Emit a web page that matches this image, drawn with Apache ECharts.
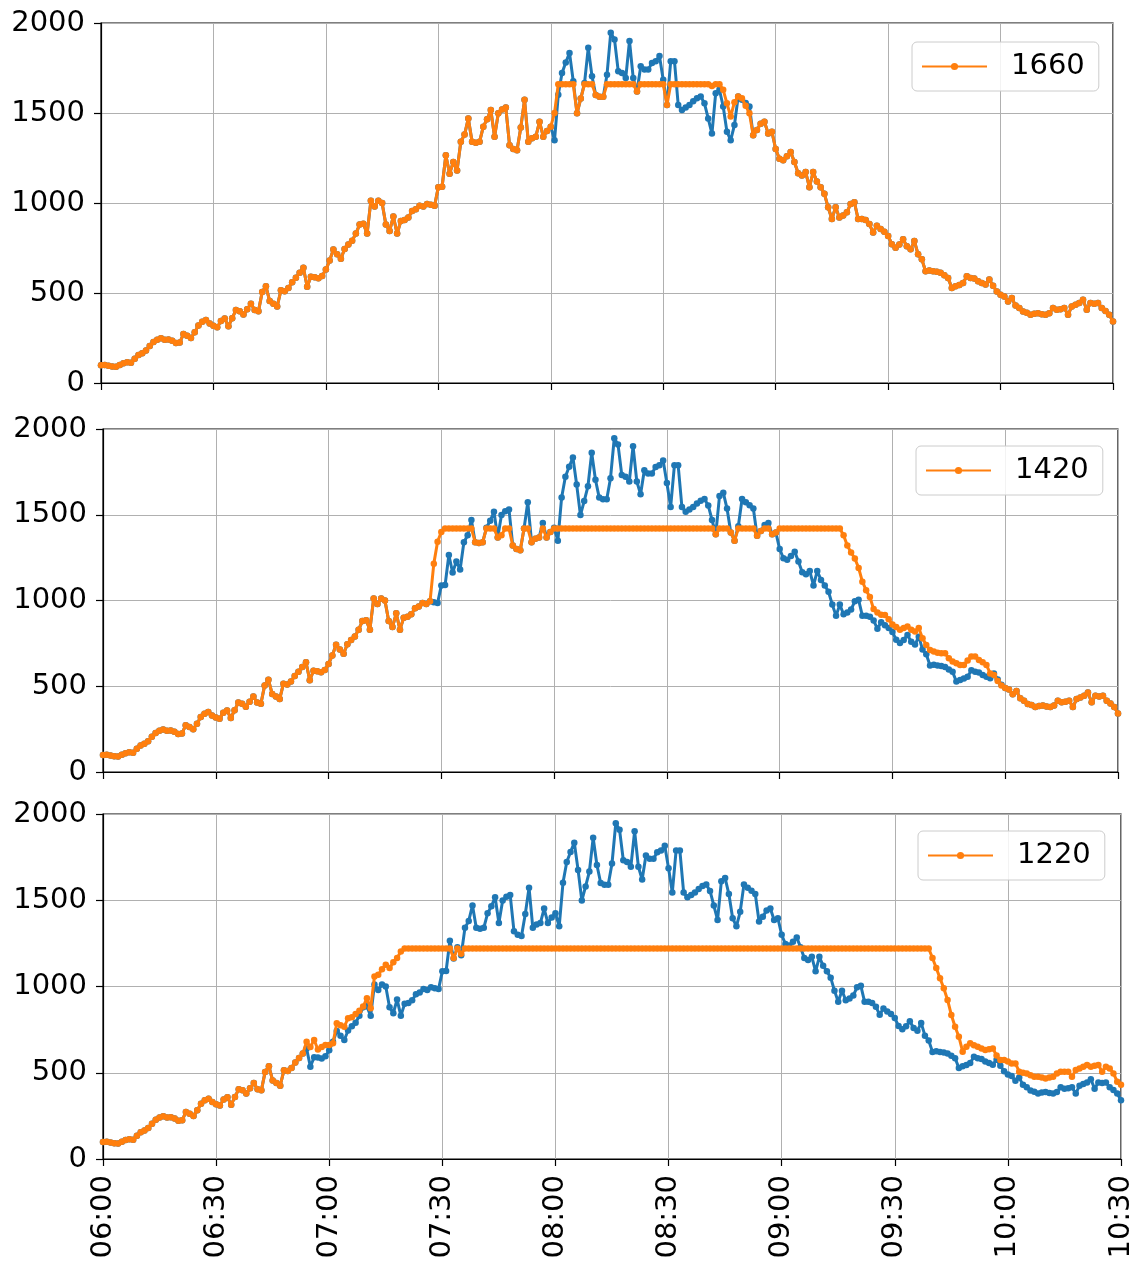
<!DOCTYPE html>
<html>
<head>
<meta charset="utf-8">
<script src="https://cdn.jsdelivr.net/npm/echarts@6/dist/echarts.min.js"></script>
<style>
html,body{margin:0;padding:0;background:#fff;}
#chart{width:1137px;height:1266px;}
</style>
</head>
<body>
<div id="chart"></div>
<script>
// x tick labels (every 30 minutes from 06:00)
const tickLabels = ['06:00','06:30','07:00','07:30','08:00','08:30','09:00','09:30','10:00','10:30'];
// legend names (caps)
const capNames = ['1660','1420','1220'];

// original series, one value per minute from 06:00 to 10:30
const blue = [
  99,100,96,92,90,100,110,115,112,135,
  155,165,180,205,228,240,248,240,242,235,
  222,225,272,262,250,282,320,340,350,330,
  318,310,345,358,315,360,405,398,380,410,
  440,405,398,505,538,455,440,425,515,510,
  528,560,585,612,640,535,590,588,582,595,
  630,680,742,715,690,745,770,790,830,880,
  885,830,1012,980,1012,1000,880,845,925,830,
  900,905,920,955,965,985,980,995,990,985,
  1088,1090,1265,1163,1228,1181,1340,1380,1470,1340,
  1335,1340,1424,1465,1517,1368,1498,1520,1530,1321,
  1300,1293,1420,1573,1340,1360,1368,1452,1368,1400,
  1424,1349,1601,1722,1780,1834,1676,1498,1580,1666,
  1862,1704,1600,1590,1590,1713,1946,1909,1732,1722,
  1694,1900,1694,1620,1760,1741,1741,1778,1788,1816,
  1685,1545,1788,1788,1545,1517,1530,1545,1565,1582,
  1592,1554,1470,1386,1610,1629,1536,1396,1349,1433,
  1592,1573,1555,1536,1377,1405,1440,1452,1386,1396,
  1300,1246,1237,1260,1284,1228,1165,1153,1172,1088,
  1172,1120,1088,1051,976,911,976,920,930,948,
  995,1004,911,911,905,883,836,873,855,840,
  817,771,752,770,799,760,743,789,715,687,
  621,625,621,618,612,598,584,528,537,545,
  556,593,584,580,565,556,547,575,540,509,
  490,481,453,472,430,416,397,390,379,385,
  388,382,379,388,416,407,410,416,379,425,
  435,444,463,407,444,440,444,416,400,379,
  341
];

// cap 1660
const orange1 = [
  99,100,96,92,90,100,110,115,112,135,
  155,165,180,205,228,240,248,240,242,235,
  222,225,272,262,250,282,320,340,350,330,
  318,310,345,358,315,360,405,398,380,410,
  440,405,398,505,538,455,440,425,515,510,
  528,560,585,612,640,535,590,588,582,595,
  630,680,742,715,690,745,770,790,830,880,
  885,830,1012,980,1012,1000,880,845,925,830,
  900,905,920,955,965,985,980,995,990,985,
  1088,1090,1265,1163,1228,1181,1340,1380,1470,1340,
  1335,1340,1424,1465,1517,1368,1498,1520,1530,1321,
  1300,1293,1420,1573,1340,1360,1368,1452,1368,1400,
  1424,1500,1660,1660,1660,1660,1660,1498,1580,1660,
  1660,1660,1600,1590,1590,1660,1660,1660,1660,1660,
  1660,1660,1660,1620,1660,1660,1660,1660,1660,1660,
  1660,1545,1660,1660,1660,1660,1660,1660,1660,1660,
  1660,1660,1660,1650,1660,1660,1629,1554,1480,1560,
  1592,1582,1540,1498,1377,1405,1440,1452,1386,1396,
  1300,1246,1237,1260,1284,1228,1165,1153,1172,1088,
  1172,1120,1088,1051,976,911,976,920,930,948,
  995,1004,911,911,905,883,836,873,855,840,
  817,771,752,770,799,760,743,789,715,687,
  621,625,621,618,612,598,584,528,537,545,
  556,593,584,580,565,556,547,575,540,509,
  490,481,453,472,430,416,397,390,379,385,
  388,382,379,388,416,407,410,416,379,425,
  435,444,463,407,444,440,444,416,400,379,
  341
];

// cap 1420
const orange2 = [
  99,100,96,92,90,100,110,115,112,135,
  155,165,180,205,228,240,248,240,242,235,
  222,225,272,262,250,282,320,340,350,330,
  318,310,345,358,315,360,405,398,380,410,
  440,405,398,505,538,455,440,425,515,510,
  528,560,585,612,640,535,590,588,582,595,
  630,680,742,715,690,745,770,790,830,880,
  885,830,1012,980,1012,1000,880,845,925,830,
  900,905,920,955,965,985,980,995,1215,1343,
  1400,1420,1420,1420,1420,1420,1420,1420,1420,1340,
  1335,1340,1420,1420,1420,1368,1380,1420,1420,1321,
  1300,1293,1420,1420,1340,1360,1368,1420,1368,1400,
  1420,1420,1420,1420,1420,1420,1420,1420,1420,1420,
  1420,1420,1420,1420,1420,1420,1420,1420,1420,1420,
  1420,1420,1420,1420,1420,1420,1420,1420,1420,1420,
  1420,1420,1420,1420,1420,1420,1420,1420,1420,1420,
  1420,1420,1420,1386,1420,1420,1420,1396,1349,1420,
  1420,1420,1420,1420,1377,1405,1420,1420,1386,1396,
  1420,1420,1420,1420,1420,1420,1420,1420,1420,1420,
  1420,1420,1420,1420,1420,1420,1420,1380,1320,1280,
  1245,1190,1110,1060,1020,950,930,917,915,890,
  860,845,829,840,848,830,819,839,780,740,
  712,702,695,692,692,663,645,634,624,624,
  650,673,673,653,640,624,575,566,530,505,
  490,481,453,472,430,416,397,390,379,385,
  388,382,379,388,416,407,410,416,379,425,
  435,444,463,407,444,440,444,416,400,379,
  341
];

// cap 1220
const orange3 = [
  99,100,96,92,90,100,110,115,112,135,
  155,165,180,205,228,240,248,240,242,235,
  222,225,272,262,250,282,320,340,350,330,
  318,310,345,358,315,360,405,398,380,410,
  440,405,398,505,538,455,440,425,515,510,
  528,560,585,612,680,650,690,635,650,661,
  661,671,787,775,767,816,822,840,860,884,
  932,874,1058,1068,1100,1126,1107,1140,1165,1203,
  1220,1220,1220,1220,1220,1220,1220,1220,1220,1220,
  1220,1220,1220,1165,1220,1190,1220,1220,1220,1220,
  1220,1220,1220,1220,1220,1220,1220,1220,1220,1220,
  1220,1220,1220,1220,1220,1220,1220,1220,1220,1220,
  1220,1220,1220,1220,1220,1220,1220,1220,1220,1220,
  1220,1220,1220,1220,1220,1220,1220,1220,1220,1220,
  1220,1220,1220,1220,1220,1220,1220,1220,1220,1220,
  1220,1220,1220,1220,1220,1220,1220,1220,1220,1220,
  1220,1220,1220,1220,1220,1220,1220,1220,1220,1220,
  1220,1220,1220,1220,1220,1220,1220,1220,1220,1220,
  1220,1220,1220,1220,1220,1220,1220,1220,1220,1220,
  1220,1220,1220,1220,1220,1220,1220,1220,1220,1220,
  1220,1220,1220,1220,1220,1220,1220,1220,1220,1220,
  1220,1220,1220,1220,1220,1220,1220,1220,1220,1220,
  1165,1107,1048,990,922,835,767,709,622,651,
  671,660,651,641,632,636,641,600,574,574,
  565,554,554,506,500,496,485,477,477,472,
  467,472,477,496,506,506,506,477,516,525,
  535,545,535,540,545,506,535,525,496,448,
  430
];

const oranges = [orange1, orange2, orange3];

const FONT = 'DejaVu Sans';
const BLUE = '#1f77b4';
const ORANGE = '#ff7f0e';

const grids = [
  {left:101, top:23, width:1012, height:360},
  {left:103, top:429, width:1015, height:343},
  {left:103, top:814, width:1018, height:345}
];
const legendPos = [
  {left:912, top:42},
  {left:916, top:446},
  {left:918, top:831}
];

const toPairs = arr => arr.map((v, i) => [i, v]);

const option = {
  animation: false,
  backgroundColor: '#fff',
  grid: grids.map(g => Object.assign({show:true, borderColor:'#000', borderWidth:1.2, backgroundColor:'transparent'}, g)),
  xAxis: grids.map((g, i) => ({
    type: 'value', gridIndex: i, min: 0, max: (tickLabels.length - 1) * 30, interval: 30,
    axisLine: {show:true, lineStyle:{color:'#000', width:1.2}},
    axisTick: {show:true, length:7, lineStyle:{color:'#000', width:1.2}},
    splitLine: {show:true, lineStyle:{color:'#b0b0b0', width:1}},
    axisLabel: {
      show: i === 2, rotate: 90, fontSize: 29, fontFamily: FONT, color:'#000', margin: 16,
      formatter: v => tickLabels[Math.round(v / 30)]
    }
  })),
  yAxis: grids.map((g, i) => ({
    type: 'value', gridIndex: i, min: 0, max: 2000, interval: 500,
    axisLine: {show:true, lineStyle:{color:'#000', width:1.2}},
    axisTick: {show:true, length:7, lineStyle:{color:'#000', width:1.2}},
    splitLine: {show:true, lineStyle:{color:'#b0b0b0', width:1}},
    axisLabel: {fontSize: 29, fontFamily: FONT, color:'#000', margin: 16, formatter: v => String(v)}
  })),
  legend: legendPos.map((p, i) => ({
    data: [capNames[i]], left: p.left, top: p.top, orient: 'horizontal',
    padding: [10, 14, 10, 9], itemWidth: 65, itemHeight: 9,
    backgroundColor: 'rgba(255,255,255,0.85)', borderColor: '#cccccc', borderWidth: 1, borderRadius: 5,
    textStyle: {fontSize: 29, fontFamily: FONT, color: '#000', padding: [0, 0, 0, 19]}
  })),
  series: []
};

for (let i = 0; i < 3; i++) {
  option.series.push({
    name: 'original', type: 'line', xAxisIndex: i, yAxisIndex: i,
    data: toPairs(blue), symbol: 'circle', symbolSize: 6.5, showSymbol: true,
    lineStyle: {color: BLUE, width: 3}, itemStyle: {color: BLUE}, z: 2
  });
  option.series.push({
    name: capNames[i], type: 'line', xAxisIndex: i, yAxisIndex: i,
    data: toPairs(oranges[i]), symbol: 'circle', symbolSize: 6.5, showSymbol: true,
    lineStyle: {color: ORANGE, width: 3}, itemStyle: {color: ORANGE}, z: 3
  });
}

const chart = echarts.init(document.getElementById('chart'), null, {renderer: 'canvas'});
chart.setOption(option);
</script>
</body>
</html>
